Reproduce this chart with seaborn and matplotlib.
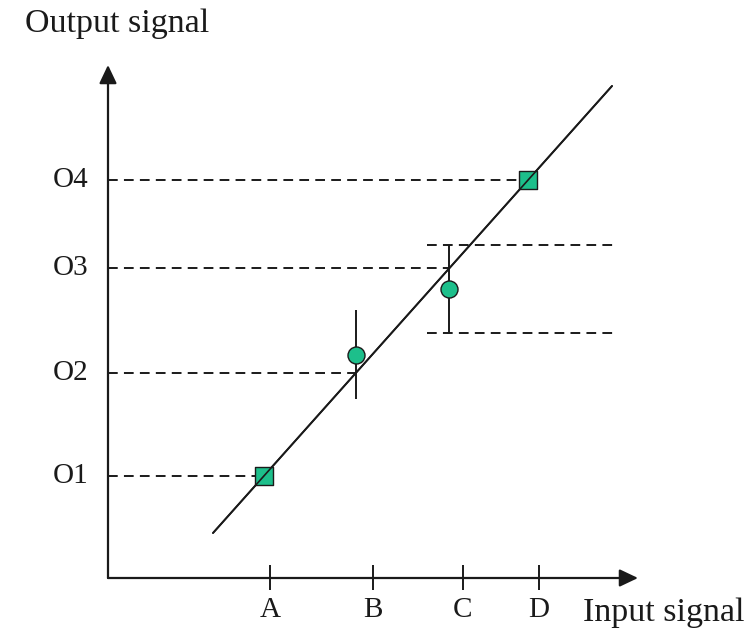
import matplotlib
matplotlib.use("Agg")
import matplotlib.pyplot as plt
import seaborn as sns
import pandas as pd

# ---- data (schematic units) ----
x_tick_labels = ["A", "B", "C", "D"]
x_tick_pos = [16.2, 26.5, 35.5, 43.1]
y_tick_labels = ["O1", "O2", "O3", "O4"]
y_levels = [10.2, 20.5, 31.0, 39.8]
y_level_ends = [14.8, 24.8, 34.1, 41.2]

fit_x = [10.5, 50.4]
fit_y = [4.5, 49.2]

calib_x = [15.6, 42.0]
calib_y = [10.2, 39.8]

meas_x = [24.8, 34.1]
meas_y = [22.3, 28.9]
meas_lo = [17.9, 24.5]
meas_hi = [26.8, 33.3]

band_y = [33.3, 24.5]
band_x0, band_x1 = 31.9, 50.8

axis_x_end = 53.0
axis_y_end = 51.3

GREEN = "#1dbf8b"
INK = "#1a1a1a"

sns.set_theme(style="white")
plt.rcParams["font.family"] = ["Liberation Serif", "DejaVu Serif"]

fig = plt.figure(figsize=(7.56, 6.33), dpi=100)
ax = fig.add_axes([0, 0, 1, 1])
ax.set_xlim(-10.8, 64.8)
ax.set_ylim(-5.5, 57.8)
ax.axis("off")

# axes arrows
arrow_kw = dict(arrowstyle="-|>,head_length=0.8,head_width=0.38", color=INK, lw=1.6,
                shrinkA=0, shrinkB=0, mutation_scale=14)
ax.annotate("", xy=(axis_x_end, 0), xytext=(0, 0), arrowprops=arrow_kw)
ax.annotate("", xy=(0, axis_y_end), xytext=(0, 0), arrowprops=arrow_kw)

# x ticks
ax.vlines(x_tick_pos, -1.2, 1.3, color=INK, lw=1.4)
for xp, lab in zip(x_tick_pos, x_tick_labels):
    ax.text(xp, -3.9, lab, ha="center", va="baseline", fontsize=21, color=INK)

# output levels (dashed)
for yl, xe, lab in zip(y_levels, y_level_ends, y_tick_labels):
    ax.plot([0, xe], [yl, yl], ls=(0, (5, 3.2)), color=INK, lw=1.4)
    ax.text(-2.0, yl, lab, ha="right", va="center", fontsize=21, color=INK)

# uncertainty band lines
for by in band_y:
    ax.plot([band_x0, band_x1], [by, by], ls=(0, (5, 3.2)), color=INK, lw=1.4)

# fitted line
sns.lineplot(x=fit_x, y=fit_y, ax=ax, color=INK, lw=1.4, zorder=3)

# error bars
ax.vlines(meas_x, meas_lo, meas_hi, color=INK, lw=1.4, zorder=3)

# markers
sns.scatterplot(x=calib_x, y=calib_y, ax=ax, marker="s", s=150, color=GREEN,
                edgecolor=INK, linewidth=1.0, zorder=5)
sns.scatterplot(x=meas_x, y=meas_y, ax=ax, marker="o", s=150, color=GREEN,
                edgecolor=INK, linewidth=1.0, zorder=5)
# draw the line on top of squares too (line passes visibly through squares)
sns.lineplot(x=fit_x, y=fit_y, ax=ax, color=INK, lw=1.2, zorder=6)

# axis titles
ax.text(-8.3, 54.6, "Output signal", ha="left", va="baseline", fontsize=24.5, color=INK)
ax.text(47.5, -4.3, "Input signal", ha="left", va="baseline", fontsize=24.5, color=INK)

fig.savefig("out.png", dpi=100)
